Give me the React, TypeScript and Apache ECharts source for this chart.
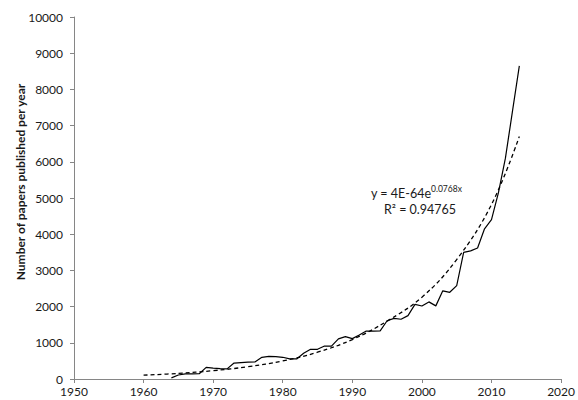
import React, { useEffect, useRef } from "react";
import * as echarts from "echarts";

const solidYears = [
  1964, 1965, 1966, 1967, 1968, 1969, 1970, 1971, 1972, 1973, 1974, 1975, 1976,
  1977, 1978, 1979, 1980, 1981, 1982, 1983, 1984, 1985, 1986, 1987, 1988, 1989,
  1990, 1991, 1992, 1993, 1994, 1995, 1996, 1997, 1998, 1999, 2000, 2001, 2002,
  2003, 2004, 2005, 2006, 2007, 2008, 2009, 2010, 2011, 2012, 2013, 2014,
];
const solidValues = [
  30, 110, 140, 140, 145, 320, 300, 285, 280, 440, 455, 465, 470,
  600, 625, 620, 600, 555, 555, 710, 820, 820, 910, 910, 1110, 1170,
  1115, 1215, 1325, 1325, 1330, 1610, 1675, 1650, 1750, 2060, 2017, 2130, 2020,
  2435, 2395, 2580, 3500, 3540, 3620, 4150, 4400, 5150, 6100, 7380, 8650,
];

const trendYears = [1960, 1965, 1970, 1975, 1980, 1985, 1990, 1995, 2000, 2005, 2010, 2014];
const trendValues = [105, 155, 230, 340, 500, 740, 1090, 1600, 2260, 3300, 4820, 6700];

const xTicks = { min: 1950, max: 2020, interval: 10 };
const yTicks = { min: 0, max: 10000, interval: 1000 };

const yAxisTitle = "Number of papers published per year";
const eqMain = "y = 4E-64e";
const eqExp = "0.0768x";
const eqR2 = "R\u00B2 = 0.94765";

export default function App() {
  const ref = useRef<HTMLDivElement>(null);
  useEffect(() => {
    if (!ref.current) return;
    const chart = echarts.init(ref.current, null, { renderer: "svg" });
    const axisColor = "#868686";
    const textColor = "#1a1a1a";
    const font = "Lato";
    chart.setOption({
      animation: false,
      backgroundColor: "#ffffff",
      grid: { left: 74, right: 15, top: 17, bottom: 21, containLabel: false },
      xAxis: {
        type: "value",
        min: xTicks.min,
        max: xTicks.max,
        interval: xTicks.interval,
        axisLine: { show: true, lineStyle: { color: axisColor, width: 1 } },
        axisTick: { show: true, length: 4, lineStyle: { color: axisColor } },
        axisLabel: {
          color: textColor,
          fontFamily: font,
          fontSize: 12,
          margin: 6,
          formatter: (v: number) => String(v),
        },
        splitLine: { show: false },
      },
      yAxis: {
        type: "value",
        min: yTicks.min,
        max: yTicks.max,
        interval: yTicks.interval,
        axisLine: { show: true, lineStyle: { color: axisColor, width: 1 } },
        axisTick: { show: true, length: 4, lineStyle: { color: axisColor } },
        axisLabel: {
          color: textColor,
          fontFamily: font,
          fontSize: 12,
          margin: 11,
          formatter: (v: number) => String(v),
        },
        splitLine: { show: false },
      },
      series: [
        {
          type: "line",
          data: solidYears.map((y, i) => [y, solidValues[i]]),
          showSymbol: false,
          symbol: "none",
          lineStyle: { color: "#000000", width: 1.2 },
          z: 3,
        },
        {
          type: "line",
          data: trendYears.map((y, i) => [y, trendValues[i]]),
          showSymbol: false,
          symbol: "none",
          smooth: 0.4,
          lineStyle: { color: "#000000", width: 1.3, type: [4, 3] },
          z: 2,
        },
      ],
      graphic: [
        {
          type: "text",
          x: 20,
          y: 182,
          rotation: Math.PI / 2,
          style: {
            text: yAxisTitle,
            fill: textColor,
            font: `bold 12px ${font}`,
            align: "center",
            verticalAlign: "middle",
          },
        },
        {
          type: "text",
          x: 431,
          y: 193,
          style: {
            text: eqMain,
            fill: textColor,
            font: `12.5px ${font}`,
            align: "right",
            verticalAlign: "middle",
          },
        },
        {
          type: "text",
          x: 431,
          y: 189,
          style: {
            text: eqExp,
            fill: textColor,
            font: `8.5px ${font}`,
            align: "left",
            verticalAlign: "middle",
          },
        },
        {
          type: "text",
          x: 420,
          y: 209,
          style: {
            text: eqR2,
            fill: textColor,
            font: `12.5px ${font}`,
            align: "center",
            verticalAlign: "middle",
          },
        },
      ],
    });
    return () => chart.dispose();
  }, []);
  return (
    <div
      ref={ref}
      style={{ position: "fixed", left: 0, top: 0, width: 578, height: 400 }}
    />
  );
}
